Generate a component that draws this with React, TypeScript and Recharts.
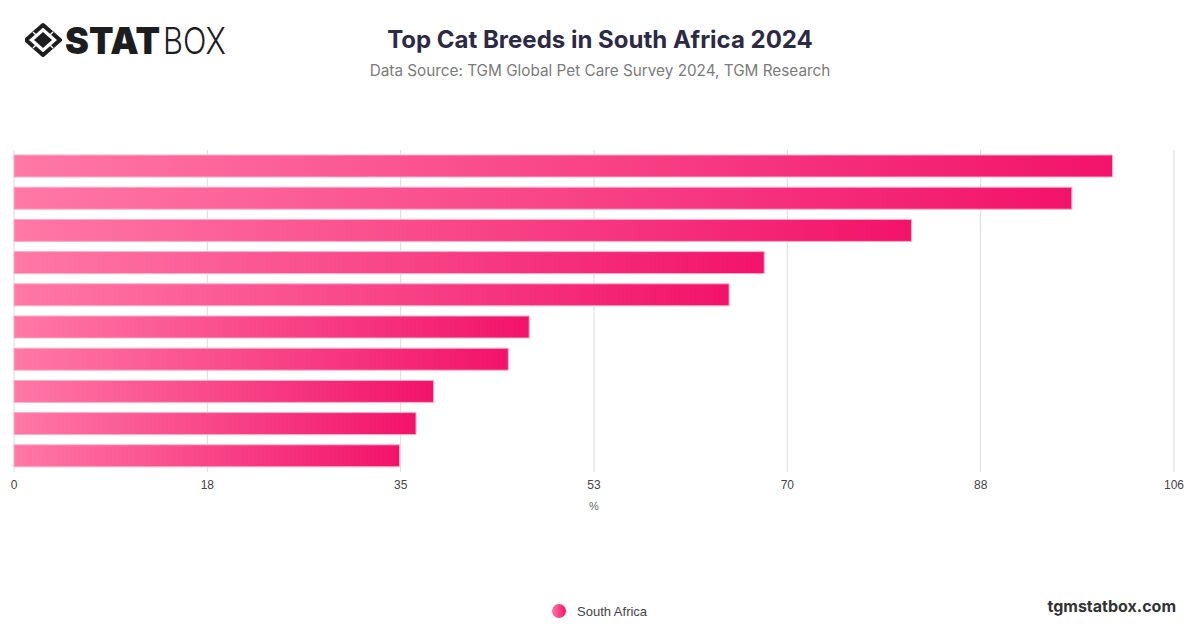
import { BarChart, Bar, XAxis, YAxis, CartesianGrid, Tooltip } from 'recharts'

const breeds = [
  'Domestic Shorthair',
  'Domestic Longhair',
  'Siamese',
  'Persian',
  'Maine Coon',
  'Bengal',
  'Ragdoll',
  'British Shorthair',
  'Sphynx',
  'Scottish Fold',
]
const shares = [100, 96.3, 81.7, 68.3, 65.1, 46.9, 45.0, 38.2, 36.6, 35.1]
const axisTicks = [0, 17.6, 35.2, 52.8, 70.4, 88, 105.6]
const seriesName = 'South Africa'

const data = breeds.map((breed, i) => ({ breed, value: shares[i] }))

const font = 'Inter, "Noto Sans", Arial, sans-serif'

const Logo = () => (
  <svg width={220} height={50} style={{ position: 'absolute', left: 25, top: 15 }}>
    <g transform="translate(18,25)">
      <path d="M0,-15 L17,0 L0,15 L-17,0 Z" fill="none" stroke="#1d1d1f" strokeWidth={4} strokeLinejoin="round" />
      <path d="M0,-8 L9,0 L0,8 L-9,0 Z" fill="#1d1d1f" />
      <line x1={-10} y1={-8} x2={-6} y2={-4} stroke="#fff" strokeWidth={1.5} />
      <line x1={10} y1={-8} x2={6} y2={-4} stroke="#fff" strokeWidth={1.5} />
      <line x1={-10} y1={8} x2={-6} y2={4} stroke="#fff" strokeWidth={1.5} />
      <line x1={10} y1={8} x2={6} y2={4} stroke="#fff" strokeWidth={1.5} />
    </g>
    <text x={40} y={39} fontFamily={font} fontWeight={900} fontSize={37} fill="#1d1d1f" textLength={95} lengthAdjust="spacingAndGlyphs">STAT</text>
    <text x={138} y={39} fontFamily={font} fontWeight={300} fontSize={37} fill="#1d1d1f" textLength={63} lengthAdjust="spacingAndGlyphs">BOX</text>
  </svg>
)

const App = () => {
  return (
    <div style={{ position: 'fixed', left: 0, top: 0, width: 1200, height: 628, background: '#fff', fontFamily: font }}>
      <Logo />
      <div style={{ position: 'absolute', left: 0, width: 1200, top: 25, textAlign: 'center', fontSize: 24, fontWeight: 700, color: '#2c2a45' }}>
        Top Cat Breeds in South Africa 2024
      </div>
      <div style={{ position: 'absolute', left: 0, width: 1200, top: 61, textAlign: 'center', fontSize: 15.3, color: '#7b7b7b' }}>
        Data Source: TGM Global Pet Care Survey 2024, TGM Research
      </div>

      <BarChart
        width={1200}
        height={628}
        data={data}
        layout="vertical"
        barSize={22}
        margin={{ top: 150, right: 26, left: 14, bottom: 126 }}
      >
        <defs>
          <linearGradient id="barGrad" x1="0" y1="0" x2="1" y2="0">
            <stop offset="0%" stopColor="#ff78a6" />
            <stop offset="100%" stopColor="#f2136a" />
          </linearGradient>
        </defs>
        <CartesianGrid horizontal={false} stroke="#dcdcdc" />
        <XAxis
          type="number"
          domain={[0, 105.6]}
          ticks={axisTicks}
          tickFormatter={(v) => String(Math.round(v))}
          axisLine={false}
          tickLine={false}
          height={30}
          tick={{ fontSize: 12, fill: '#444', fontFamily: 'Arial, "Liberation Sans", sans-serif' }}
          label={{ value: '%', position: 'insideBottom', offset: -8, fontSize: 11, fill: '#666', fontFamily: 'Arial, "Liberation Sans", sans-serif' }}
        />
        <YAxis
          type="category"
          dataKey="breed"
          width={0}
          tick={false}
          tickLine={false}
          axisLine={{ stroke: '#333' }}
        />
        <Tooltip />
        <Bar
          dataKey="value"
          name={seriesName}
          fill="url(#barGrad)"
          stroke="#ffadc8"
          strokeWidth={1}
          isAnimationActive={false}
        />
      </BarChart>

      <div style={{ position: 'absolute', left: 551, top: 603, display: 'flex', alignItems: 'center', gap: 10 }}>
        <svg width={16} height={16}>
          <defs>
            <linearGradient id="legGrad" x1="0" y1="0" x2="1" y2="0">
              <stop offset="0%" stopColor="#ff78a6" />
              <stop offset="100%" stopColor="#f2136a" />
            </linearGradient>
          </defs>
          <circle cx={8} cy={8} r={7} fill="url(#legGrad)" />
        </svg>
        <span style={{ fontSize: 13, color: '#444', fontFamily: 'Arial, "Liberation Sans", sans-serif' }}>{seriesName}</span>
      </div>
      <div style={{ position: 'absolute', right: 24, top: 596, fontSize: 16, fontWeight: 700, color: '#333' }}>
        tgmstatbox.com
      </div>
    </div>
  )
}

export default App
